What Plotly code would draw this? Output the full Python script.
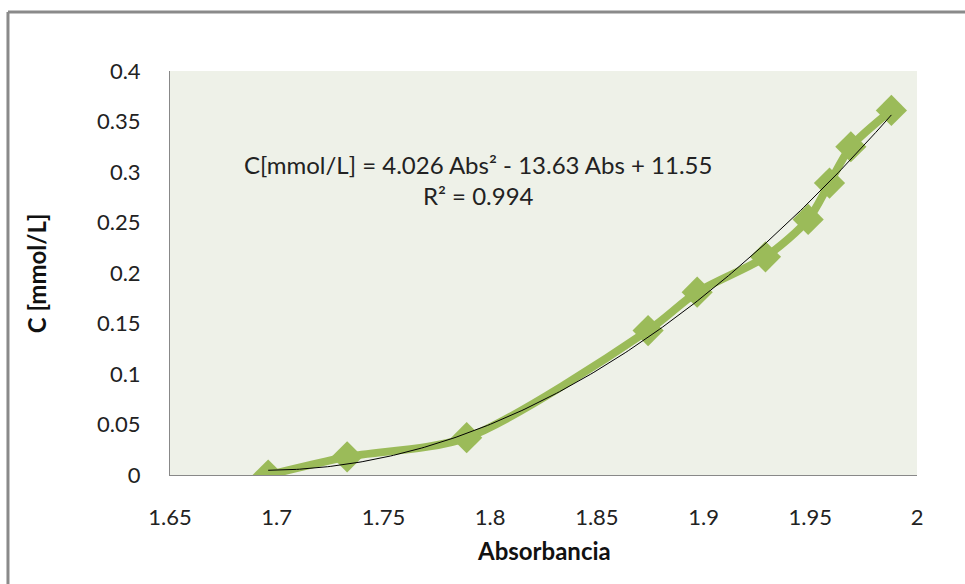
import numpy as np
import plotly.graph_objects as go

# Calibration data: absorbance vs concentration
absorbancia = [1.696, 1.733, 1.789, 1.874, 1.897, 1.929, 1.949, 1.959, 1.969, 1.988]
concentracion = [0.000, 0.018, 0.037, 0.143, 0.181, 0.216, 0.253, 0.289, 0.325, 0.361]

x_ticks = [1.65, 1.7, 1.75, 1.8, 1.85, 1.9, 1.95, 2.0]
x_tick_text = ["1.65", "1.7", "1.75", "1.8", "1.85", "1.9", "1.95", "2"]
y_ticks = [0, 0.05, 0.1, 0.15, 0.2, 0.25, 0.3, 0.35, 0.4]
y_tick_text = ["0", "0.05", "0.1", "0.15", "0.2", "0.25", "0.3", "0.35", "0.4"]

ecuacion = "C[mmol/L] = 4.026 Abs² - 13.63 Abs + 11.55<br>R² = 0.994"

# Second-order polynomial trendline fitted to the data
coef = np.polyfit(absorbancia, concentracion, 2)
x_fit = np.linspace(min(absorbancia), max(absorbancia), 200)
y_fit = np.polyval(coef, x_fit)

FONT = "Lato, 'Open Sans', sans-serif"
GREEN = "#9BBB59"

fig = go.Figure()
fig.add_trace(go.Scatter(
    x=absorbancia, y=concentracion, mode="lines+markers",
    line=dict(color=GREEN, width=8, shape="spline", smoothing=0.8),
    marker=dict(symbol="diamond", size=24, color=GREEN),
    showlegend=False, hoverinfo="x+y",
))
fig.add_trace(go.Scatter(
    x=x_fit, y=y_fit, mode="lines",
    line=dict(color="#000000", width=1),
    showlegend=False, hoverinfo="skip",
))

fig.add_annotation(
    x=1.7943, y=0.292, xref="x", yref="y", text=ecuacion, showarrow=False,
    font=dict(family=FONT, size=24, color="#222222"), align="center",
    xanchor="center", yanchor="middle",
)

# Axis titles
fig.add_annotation(
    x=-0.179, y=0.5, xref="paper", yref="paper", text="<b>C [mmol/L]</b>",
    textangle=-90, showarrow=False, xanchor="center", yanchor="middle",
    font=dict(family=FONT, size=24, color="#111111"),
)
fig.add_annotation(
    x=0.5, y=-0.186, xref="paper", yref="paper", text="<b>Absorbancia</b>",
    showarrow=False, xanchor="center", yanchor="middle",
    font=dict(family=FONT, size=24, color="#111111"),
)

# Chart frame (top and left edges)
fig.add_shape(type="line", xref="paper", yref="paper",
              x0=-0.2169, x1=1.1, y0=1.146, y1=1.146,
              line=dict(color="#8A8A8A", width=3))
fig.add_shape(type="line", xref="paper", yref="paper",
              x0=-0.2169, x1=-0.2169, y0=1.146, y1=-0.3,
              line=dict(color="#8A8A8A", width=3))

fig.update_layout(
    width=965, height=584,
    margin=dict(l=170, r=48, t=71, b=109),
    paper_bgcolor="#FFFFFF", plot_bgcolor="#EEF1E8",
    font=dict(family=FONT, size=22, color="#222222"),
    xaxis=dict(range=[1.65, 2.0], tickvals=x_ticks, ticktext=x_tick_text,
               showgrid=False, zeroline=False, showline=True, linecolor="#888888",
               linewidth=1, ticks="", ticklabelstandoff=23),
    yaxis=dict(range=[0, 0.4], tickvals=y_ticks, ticktext=y_tick_text,
               showgrid=False, zeroline=False, showline=True, linecolor="#888888",
               linewidth=1, ticks="", ticklabelstandoff=24),
)

fig.write_html("out.html")
